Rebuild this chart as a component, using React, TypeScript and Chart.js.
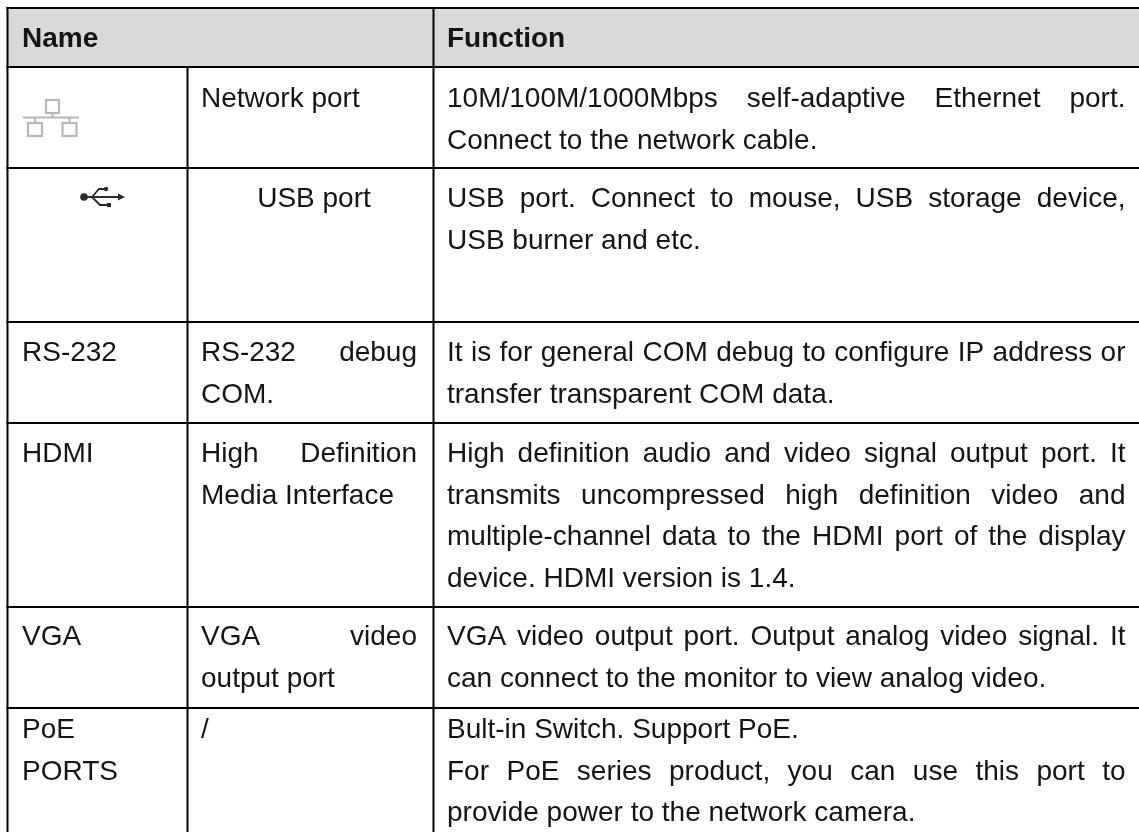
import React, { useEffect, useRef } from "react";
import { Chart, registerables } from "chart.js";

Chart.register(...registerables);

// ---- content ----
const headerLabels = ["Name", "Function"];
const nameLabels = [[""], [""], ["RS-232"], ["HDMI"], ["VGA"], ["PoE", "PORTS"]];
const portLabels = [
  ["Network port"],
  ["USB port"],
  ["RS-232 debug", "COM."],
  ["High Definition", "Media Interface"],
  ["VGA video", "output port"],
  ["/"],
];
const functionLabels = [
  ["10M/100M/1000Mbps self-adaptive Ethernet port.", "Connect to the network cable."],
  ["USB port. Connect to mouse, USB storage device,", "USB burner and etc."],
  ["It is for general COM debug to configure IP address or", "transfer transparent COM data."],
  [
    "High definition audio and video signal output port. It",
    "transmits uncompressed high definition video and",
    "multiple-channel data to the HDMI port of the display",
    "device. HDMI version is 1.4.",
  ],
  ["VGA video output port. Output analog video signal. It", "can connect to the monitor to view analog video."],
  [
    "Bult-in Switch. Support PoE.",
    "For PoE series product, you can use this port to",
    "provide power to the network camera.",
  ],
];
const justifiedLines = [
  "RS-232 debug",
  "High Definition",
  "VGA video",
  "10M/100M/1000Mbps self-adaptive Ethernet port.",
  "USB port. Connect to mouse, USB storage device,",
  "It is for general COM debug to configure IP address or",
  "High definition audio and video signal output port. It",
  "transmits uncompressed high definition video and",
  "multiple-channel data to the HDMI port of the display",
  "VGA video output port. Output analog video signal. It",
  "For PoE series product, you can use this port to",
];
const centeredLines = ["USB port"];

// ---- table layout, in scale units (1 unit = 1 pixel) ----
const WIDTH = 1139;
const HEIGHT = 832;
const rowRules = [8, 67, 168, 322, 423, 607, 708];
const columnRules = [7.5, 187.5, 433.5];
const rowBaselines = [107, 207, 361, 462, 645, 738];
const LINE_STEP = 41.5;
const HEADER_BASELINE = 47;
const FONT_PX = 28;
const FONT_FAMILY = '"Liberation Sans", Arial, sans-serif';
const TEXT_COLOR = "#151515";
const RULE_COLOR = "#000000";
const HEADER_FILL = "#d9d9d9";
const nameX = 22;
const portX = [201, 417];
const portCenterX = 314;
const functionX = [447, 1125.5];

const ICON_GREY = "#b8b8b8";
const ICON_DARK = "#2b2b2b";

function drawLine(ctx: any, x: any, y: any, line: string, left: number, right: number) {
  const px0 = x.getPixelForValue(left);
  const px1 = x.getPixelForValue(right);
  if (centeredLines.includes(line)) {
    ctx.textAlign = "center";
    ctx.fillText(line, x.getPixelForValue(portCenterX), y);
    ctx.textAlign = "left";
    return;
  }
  if (justifiedLines.includes(line)) {
    const words = line.split(" ");
    const total = words.reduce((s, w) => s + ctx.measureText(w).width, 0);
    const gap = (px1 - px0 - total) / (words.length - 1);
    let cx = px0;
    for (const w of words) {
      ctx.fillText(w, cx, y);
      cx += ctx.measureText(w).width + gap;
    }
    return;
  }
  ctx.fillText(line, px0, y);
}

const tableBackground = {
  id: "tableBackground",
  beforeDatasetsDraw(chart: any) {
    const { ctx, scales } = chart;
    const { x, y } = scales;
    ctx.save();
    ctx.fillStyle = HEADER_FILL;
    ctx.fillRect(
      x.getPixelForValue(columnRules[0]),
      y.getPixelForValue(rowRules[0]),
      x.getPixelForValue(WIDTH) - x.getPixelForValue(columnRules[0]),
      y.getPixelForValue(rowRules[1]) - y.getPixelForValue(rowRules[0])
    );
    ctx.restore();
  },
};

const tableText = {
  id: "tableText",
  afterDatasetsDraw(chart: any) {
    const { ctx, scales } = chart;
    const { x, y } = scales;
    ctx.save();
    ctx.fillStyle = TEXT_COLOR;
    ctx.textBaseline = "alphabetic";
    ctx.textAlign = "left";
    ctx.font = `bold ${FONT_PX}px ${FONT_FAMILY}`;
    ctx.fillText(headerLabels[0], x.getPixelForValue(nameX), y.getPixelForValue(HEADER_BASELINE));
    ctx.fillText(headerLabels[1], x.getPixelForValue(functionX[0]), y.getPixelForValue(HEADER_BASELINE));
    ctx.font = `${FONT_PX}px ${FONT_FAMILY}`;
    rowBaselines.forEach((base, r) => {
      nameLabels[r].forEach((t, i) => {
        if (t) ctx.fillText(t, x.getPixelForValue(nameX), y.getPixelForValue(base + i * LINE_STEP));
      });
      portLabels[r].forEach((t, i) => {
        drawLine(ctx, x, y.getPixelForValue(base + i * LINE_STEP), t, portX[0], portX[1]);
      });
      functionLabels[r].forEach((t, i) => {
        drawLine(ctx, x, y.getPixelForValue(base + i * LINE_STEP), t, functionX[0], functionX[1]);
      });
    });

    const X = (v: number) => x.getPixelForValue(v);
    const Y = (v: number) => y.getPixelForValue(v);

    // network icon
    ctx.save();
    ctx.filter = "blur(0.5px)";
    ctx.strokeStyle = ICON_GREY;
    ctx.lineWidth = 2.2;
    ctx.strokeRect(X(46), Y(100), 13, 13);
    ctx.strokeRect(X(28), Y(123), 14, 13);
    ctx.strokeRect(X(62.5), Y(123), 14, 13);
    ctx.beginPath();
    ctx.moveTo(X(23), Y(117.5));
    ctx.lineTo(X(79), Y(117.5));
    ctx.moveTo(X(52.5), Y(113));
    ctx.lineTo(X(52.5), Y(117));
    ctx.moveTo(X(35), Y(117));
    ctx.lineTo(X(35), Y(123));
    ctx.moveTo(X(69.5), Y(117));
    ctx.lineTo(X(69.5), Y(123));
    ctx.stroke();
    ctx.restore();

    // usb icon
    ctx.save();
    ctx.filter = "blur(0.4px)";
    ctx.strokeStyle = ICON_DARK;
    ctx.fillStyle = ICON_DARK;
    ctx.lineWidth = 1.8;
    ctx.beginPath();
    ctx.moveTo(X(84), Y(197));
    ctx.lineTo(X(120), Y(197));
    ctx.moveTo(X(92), Y(197));
    ctx.lineTo(X(99), Y(189));
    ctx.lineTo(X(105), Y(189));
    ctx.moveTo(X(92), Y(197));
    ctx.lineTo(X(100), Y(205));
    ctx.lineTo(X(107), Y(205));
    ctx.stroke();
    ctx.beginPath();
    ctx.arc(X(84), Y(197), 3.8, 0, Math.PI * 2);
    ctx.fill();
    ctx.beginPath();
    ctx.arc(X(106), Y(189), 2.2, 0, Math.PI * 2);
    ctx.fill();
    ctx.fillRect(X(107), Y(203), 4, 4);
    ctx.beginPath();
    ctx.moveTo(X(125), Y(197));
    ctx.lineTo(X(118), Y(193.5));
    ctx.lineTo(X(118), Y(200.5));
    ctx.closePath();
    ctx.fill();
    ctx.restore();
    ctx.restore();
  },
};

function ruleDataset(points: { x: number; y: number }[]) {
  return {
    data: points,
    showLine: true,
    borderColor: RULE_COLOR,
    borderWidth: 2,
    pointRadius: 0,
    borderCapStyle: "butt",
    clip: false,
  };
}

export default function App() {
  const ref = useRef<HTMLCanvasElement | null>(null);
  useEffect(() => {
    if (!ref.current) return;
    const top = rowRules[0] - 1;
    const horizontals = rowRules.map((ry) =>
      ruleDataset([
        { x: columnRules[0] - 1, y: ry },
        { x: WIDTH, y: ry },
      ])
    );
    const verticals = columnRules.map((cx, i) =>
      ruleDataset([
        { x: cx, y: i === 1 ? rowRules[1] : top },
        { x: cx, y: HEIGHT },
      ])
    );
    const chart = new Chart(ref.current, {
      type: "scatter",
      data: { datasets: [...horizontals, ...verticals] as any },
      plugins: [tableBackground, tableText],
      options: {
        animation: false,
        responsive: false,
        maintainAspectRatio: false,
        layout: { padding: 0 },
        plugins: { legend: { display: false }, tooltip: { enabled: false }, title: { display: false } },
        scales: {
          x: { type: "linear", display: false, min: 0, max: WIDTH },
          y: { type: "linear", display: false, min: 0, max: HEIGHT, reverse: true },
        },
      },
    });
    return () => chart.destroy();
  }, []);
  return (
    <canvas
      ref={ref}
      width={WIDTH}
      height={HEIGHT}
      style={{ position: "absolute", left: 0, top: 0, display: "block", width: WIDTH, height: HEIGHT, background: "#fff" }}
    />
  );
}
